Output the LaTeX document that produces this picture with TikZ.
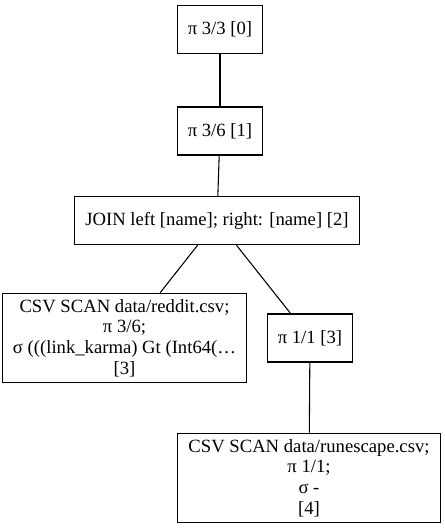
\documentclass[tikz,border=0pt]{standalone}
\usepackage{fontspec}
\setmainfont{Liberation Serif}
\begin{document}
\begin{tikzpicture}[x=0.75pt, y=-0.75pt,
        every node/.style={font=\fontsize{14}{15.5}\selectfont},
        op/.style={draw, line width=0.8pt, align=center, inner xsep=7.9pt, inner ysep=4.5pt, minimum height=36pt},
        edge/.style={line width=0.8pt}]
        \useasboundingbox (0,0) rectangle (444,528);

        % Plan nodes
        \node[op] (p0) at (220,29.5) {π 3/3 [0]};
        \node[op] (p1) at (220,131) {π 3/6 [1]};
        \node[op] (join) at (217,220.6) {JOIN left [name]; right: [name] [2]};
        \node[op] (reddit) at (124.5,338) {CSV SCAN data/reddit.csv;\\ π 3/6;\\ σ (((link\_karma) Gt (Int64(…\\ {[3]}};
        \node[op] (p3) at (310,338) {π 1/1 [3]};
        \node[op] (rune) at (309,478) {CSV SCAN data/runescape.csv;\\ π 1/1;\\ σ -\\ {[4]}};

        % Edges
        \draw[edge] (p0) -- (p1);
        \draw[edge] (p1) -- (join);
        \draw[edge] (join) -- (reddit);
        \draw[edge] (join) -- (p3);
        \draw[edge] (p3) -- (rune);
    \end{tikzpicture}
\end{document}
